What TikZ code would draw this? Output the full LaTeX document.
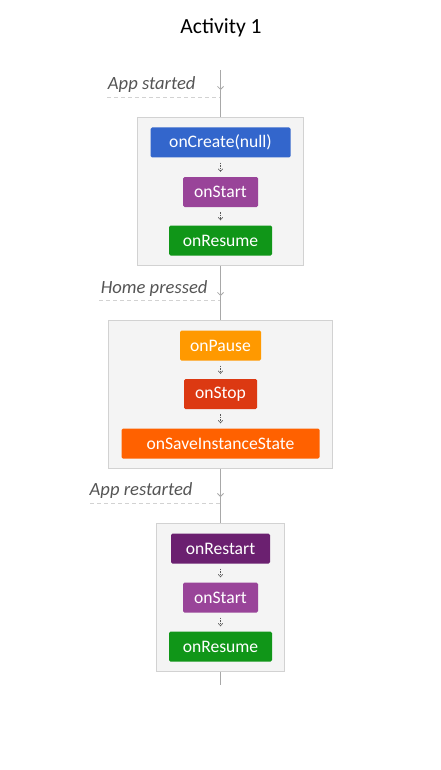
\documentclass[tikz,border=0pt]{standalone}
\usepackage{fontspec}
\setmainfont{Carlito}
\usetikzlibrary{arrows.meta, fit, backgrounds}

\definecolor{cblue}{HTML}{3366CC}
\definecolor{cpurple}{HTML}{994499}
\definecolor{cgreen}{HTML}{109618}
\definecolor{corange}{HTML}{FF9900}
\definecolor{cred}{HTML}{DC3912}
\definecolor{csave}{HTML}{FF6100}
\definecolor{cplum}{HTML}{6B2070}
\definecolor{panel}{HTML}{F4F4F4}
\definecolor{panelline}{HTML}{D2D2D2}
\definecolor{axis}{HTML}{A8A8A8}
\definecolor{eventtext}{HTML}{555555}

\tikzset{
  method/.style={rounded corners=1.5pt, text=white, minimum height=30pt,
    inner sep=0pt, font=\fontsize{17.6}{20}\selectfont},
  panelbox/.style={draw=panelline, fill=panel, line width=0.8pt,
    inner xsep=12.5pt, inner ysep=9.5pt},
  event/.style={anchor=east, text=eventtext, font=\fontsize{18.6}{22}\selectfont\itshape},
  eventline/.style={draw=panelline, line width=0.9pt, dash pattern=on 4pt off 3pt},
  mainline/.style={draw=axis, line width=0.8pt},
  steparrow/.style={-{Straight Barb[length=2.5pt,width=4.5pt]}, draw=black!65,
    line width=0.6pt, dash pattern=on 1.5pt off 1pt, shorten >=5pt, shorten <=5pt},
  maintip/.style={-{Straight Barb[length=3pt,width=6pt]}}
}

\begin{document}
\begin{tikzpicture}[x=1pt, y=-1pt]
  \useasboundingbox (0,0) rectangle (441,770);
  \node[font=\fontsize{21.6}{26}\selectfont] (title) at (221,28) {Activity 1};

  % first block
  \node[method, fill=cblue, minimum width=140pt] (create) at (220.5,142.5) {onCreate(null)};
  \node[method, fill=cpurple, minimum width=75pt] (start1) at (220.5,192) {onStart};
  \node[method, fill=cgreen, minimum width=103pt] (resume1) at (220.5,240.5) {onResume};

  % second block
  \node[method, fill=corange, minimum width=81pt] (pause) at (220.5,345.5) {onPause};
  \node[method, fill=cred, minimum width=73pt] (stop) at (220.5,394) {onStop};
  \node[method, fill=csave, minimum width=198pt] (save) at (220.5,443.5) {onSaveInstanceState};

  % third block
  \node[method, fill=cplum, minimum width=99pt] (restart) at (220.5,548.5) {onRestart};
  \node[method, fill=cpurple, minimum width=75pt] (start2) at (220.5,597.5) {onStart};
  \node[method, fill=cgreen, minimum width=103pt] (resume2) at (220.5,646.5) {onResume};

  \begin{scope}[on background layer]
    \node[panelbox, fit=(create)(start1)(resume1)] (panelA) {};
    \node[panelbox, fit=(pause)(stop)(save)] (panelB) {};
    \node[panelbox, fit=(restart)(start2)(resume2)] (panelC) {};
  \end{scope}

  % events on the time line
  \coordinate (top) at (220.5,70);
  \coordinate (evA) at (220.5,90);
  \coordinate (evB) at (220.5,296);
  \coordinate (evC) at (220.5,497);
  \coordinate (bottom) at (220.5,685);
  \coordinate (dashA) at (107,97);
  \coordinate (dashB) at (99,300);
  \coordinate (dashC) at (90,503);

  \node[event] (startedlbl) at (199,85) {App started};
  \node[event] (homelbl) at (211,289) {Home pressed};
  \node[event] (restartlbl) at (196,491) {App restarted};

  \draw[eventline] (dashA) -- (dashA -| top);
  \draw[eventline] (dashB) -- (dashB -| top);
  \draw[eventline] (dashC) -- (dashC -| top);

  \draw[mainline, maintip] (top) -- (evA);
  \draw[mainline] (evA) -- (panelA.north);
  \draw[mainline, maintip] (panelA.south) -- (evB);
  \draw[mainline] (evB) -- (panelB.north);
  \draw[mainline, maintip] (panelB.south) -- (evC);
  \draw[mainline] (evC) -- (panelC.north);
  \draw[mainline] (panelC.south) -- (bottom);

  % steps inside the blocks
  \draw[steparrow] (create) -- (start1);
  \draw[steparrow] (start1) -- (resume1);
  \draw[steparrow] (pause) -- (stop);
  \draw[steparrow] (stop) -- (save);
  \draw[steparrow] (restart) -- (start2);
  \draw[steparrow] (start2) -- (resume2);
\end{tikzpicture}
\end{document}
